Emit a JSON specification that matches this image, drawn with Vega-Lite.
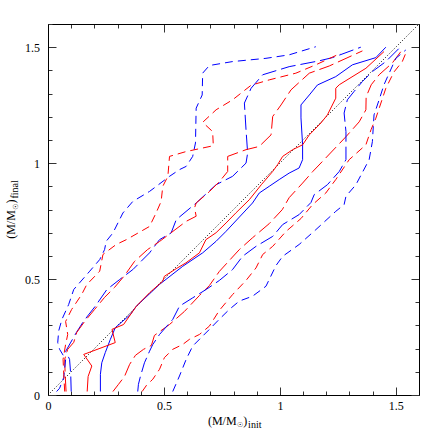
{
"$schema": "https://vega.github.io/schema/vega-lite/v6.json",
"width": 371, "height": 371,
"autosize": {"type": "none"},
"padding": {"left": 48, "top": 24, "right": 24, "bottom": 48},
"config": {"view": {"stroke": null}, "axis": {"grid": false, "labelFont": "Liberation Serif", "titleFont": "Liberation Serif", "labelColor": "black", "titleColor": "black", "titleFontWeight": "normal", "domainColor": "black", "domainWidth": 1, "tickColor": "#333", "tickWidth": 1}},
"datasets": {
"diag": [{"x": 0, "y": 0}, {"x": 1.6, "y": 1.6}],
"curves": [
{"c":"BSU","k":"blue","t":"short","x":0.037,"y":0.015},{"c":"BSU","k":"blue","t":"short","x":0.050,"y":0.029},{"c":"BSU","k":"blue","t":"short","x":0.068,"y":0.076},{"c":"BSU","k":"blue","t":"short","x":0.076,"y":0.154},{"c":"BSU","k":"blue","t":"short","x":0.050,"y":0.197},{"c":"BSU","k":"blue","t":"short","x":0.042,"y":0.226},{"c":"BSU","k":"blue","t":"short","x":0.046,"y":0.276},{"c":"BSU","k":"blue","t":"short","x":0.060,"y":0.326},{"c":"BSU","k":"blue","t":"short","x":0.089,"y":0.390},{"c":"BSU","k":"blue","t":"short","x":0.111,"y":0.455},{"c":"BSU","k":"blue","t":"short","x":0.180,"y":0.534},{"c":"BSU","k":"blue","t":"short","x":0.223,"y":0.584},{"c":"BSU","k":"blue","t":"short","x":0.244,"y":0.627},{"c":"BSU","k":"blue","t":"short","x":0.251,"y":0.663},{"c":"BSU","k":"blue","t":"short","x":0.280,"y":0.699},{"c":"BSU","k":"blue","t":"short","x":0.323,"y":0.785},{"c":"BSU","k":"blue","t":"short","x":0.366,"y":0.835},{"c":"BSU","k":"blue","t":"short","x":0.438,"y":0.878},{"c":"BSU","k":"blue","t":"short","x":0.524,"y":0.943},{"c":"BSU","k":"blue","t":"short","x":0.567,"y":0.972},{"c":"BSU","k":"blue","t":"short","x":0.596,"y":0.986},{"c":"BSU","k":"blue","t":"short","x":0.624,"y":1.029},{"c":"BSU","k":"blue","t":"short","x":0.636,"y":1.087},{"c":"BSU","k":"blue","t":"short","x":0.639,"y":1.237},{"c":"BSU","k":"blue","t":"short","x":0.665,"y":1.294},{"c":"BSU","k":"blue","t":"short","x":0.667,"y":1.388},{"c":"BSU","k":"blue","t":"short","x":0.696,"y":1.421},{"c":"BSU","k":"blue","t":"short","x":0.796,"y":1.438},{"c":"BSU","k":"blue","t":"short","x":0.940,"y":1.452},{"c":"BSU","k":"blue","t":"short","x":1.040,"y":1.467},{"c":"BSU","k":"blue","t":"short","x":1.155,"y":1.502},
{"c":"RSU","k":"red","t":"short","x":0.072,"y":0.015},{"c":"RSU","k":"red","t":"short","x":0.068,"y":0.089},{"c":"RSU","k":"red","t":"short","x":0.065,"y":0.154},{"c":"RSU","k":"red","t":"short","x":0.076,"y":0.218},{"c":"RSU","k":"red","t":"short","x":0.085,"y":0.261},{"c":"RSU","k":"red","t":"short","x":0.076,"y":0.317},{"c":"RSU","k":"red","t":"short","x":0.102,"y":0.369},{"c":"RSU","k":"red","t":"short","x":0.145,"y":0.433},{"c":"RSU","k":"red","t":"short","x":0.167,"y":0.476},{"c":"RSU","k":"red","t":"short","x":0.223,"y":0.534},{"c":"RSU","k":"red","t":"short","x":0.237,"y":0.606},{"c":"RSU","k":"red","t":"short","x":0.294,"y":0.649},{"c":"RSU","k":"red","t":"short","x":0.338,"y":0.670},{"c":"RSU","k":"red","t":"short","x":0.438,"y":0.727},{"c":"RSU","k":"red","t":"short","x":0.466,"y":0.785},{"c":"RSU","k":"red","t":"short","x":0.488,"y":0.835},{"c":"RSU","k":"red","t":"short","x":0.495,"y":0.900},{"c":"RSU","k":"red","t":"short","x":0.517,"y":0.943},{"c":"RSU","k":"red","t":"short","x":0.524,"y":1.029},{"c":"RSU","k":"red","t":"short","x":0.596,"y":1.050},{"c":"RSU","k":"red","t":"short","x":0.713,"y":1.075},{"c":"RSU","k":"red","t":"short","x":0.710,"y":1.136},{"c":"RSU","k":"red","t":"short","x":0.667,"y":1.176},{"c":"RSU","k":"red","t":"short","x":0.725,"y":1.230},{"c":"RSU","k":"red","t":"short","x":0.796,"y":1.273},{"c":"RSU","k":"red","t":"short","x":0.876,"y":1.336},{"c":"RSU","k":"red","t":"short","x":0.954,"y":1.359},{"c":"RSU","k":"red","t":"short","x":1.069,"y":1.388},{"c":"RSU","k":"red","t":"short","x":1.155,"y":1.424},{"c":"RSU","k":"red","t":"short","x":1.263,"y":1.474},
{"c":"BLU","k":"blue","t":"long","x":0.100,"y":0.015},{"c":"BLU","k":"blue","t":"long","x":0.098,"y":0.089},{"c":"BLU","k":"blue","t":"long","x":0.093,"y":0.154},{"c":"BLU","k":"blue","t":"long","x":0.076,"y":0.188},{"c":"BLU","k":"blue","t":"long","x":0.089,"y":0.211},{"c":"BLU","k":"blue","t":"long","x":0.122,"y":0.269},{"c":"BLU","k":"blue","t":"long","x":0.154,"y":0.319},{"c":"BLU","k":"blue","t":"long","x":0.204,"y":0.383},{"c":"BLU","k":"blue","t":"long","x":0.254,"y":0.455},{"c":"BLU","k":"blue","t":"long","x":0.309,"y":0.498},{"c":"BLU","k":"blue","t":"long","x":0.366,"y":0.541},{"c":"BLU","k":"blue","t":"long","x":0.438,"y":0.613},{"c":"BLU","k":"blue","t":"long","x":0.481,"y":0.670},{"c":"BLU","k":"blue","t":"long","x":0.531,"y":0.699},{"c":"BLU","k":"blue","t":"long","x":0.553,"y":0.756},{"c":"BLU","k":"blue","t":"long","x":0.639,"y":0.828},{"c":"BLU","k":"blue","t":"long","x":0.725,"y":0.907},{"c":"BLU","k":"blue","t":"long","x":0.796,"y":0.943},{"c":"BLU","k":"blue","t":"long","x":0.854,"y":1.000},{"c":"BLU","k":"blue","t":"long","x":0.861,"y":1.043},{"c":"BLU","k":"blue","t":"long","x":0.854,"y":1.144},{"c":"BLU","k":"blue","t":"long","x":0.847,"y":1.259},{"c":"BLU","k":"blue","t":"long","x":0.876,"y":1.323},{"c":"BLU","k":"blue","t":"long","x":0.926,"y":1.381},{"c":"BLU","k":"blue","t":"long","x":1.040,"y":1.416},{"c":"BLU","k":"blue","t":"long","x":1.169,"y":1.441},{"c":"BLU","k":"blue","t":"long","x":1.227,"y":1.455},{"c":"BLU","k":"blue","t":"long","x":1.349,"y":1.500},
{"c":"RLU","k":"red","t":"long","x":0.078,"y":0.015},{"c":"RLU","k":"red","t":"long","x":0.074,"y":0.089},{"c":"RLU","k":"red","t":"long","x":0.072,"y":0.154},{"c":"RLU","k":"red","t":"long","x":0.085,"y":0.197},{"c":"RLU","k":"red","t":"long","x":0.111,"y":0.227},{"c":"RLU","k":"red","t":"long","x":0.124,"y":0.270},{"c":"RLU","k":"red","t":"long","x":0.158,"y":0.317},{"c":"RLU","k":"red","t":"long","x":0.201,"y":0.369},{"c":"RLU","k":"red","t":"long","x":0.244,"y":0.421},{"c":"RLU","k":"red","t":"long","x":0.287,"y":0.464},{"c":"RLU","k":"red","t":"long","x":0.330,"y":0.515},{"c":"RLU","k":"red","t":"long","x":0.373,"y":0.576},{"c":"RLU","k":"red","t":"long","x":0.429,"y":0.627},{"c":"RLU","k":"red","t":"long","x":0.481,"y":0.662},{"c":"RLU","k":"red","t":"long","x":0.510,"y":0.684},{"c":"RLU","k":"red","t":"long","x":0.596,"y":0.749},{"c":"RLU","k":"red","t":"long","x":0.639,"y":0.771},{"c":"RLU","k":"red","t":"long","x":0.632,"y":0.807},{"c":"RLU","k":"red","t":"long","x":0.639,"y":0.828},{"c":"RLU","k":"red","t":"long","x":0.696,"y":0.877},{"c":"RLU","k":"red","t":"long","x":0.739,"y":0.920},{"c":"RLU","k":"red","t":"long","x":0.775,"y":0.964},{"c":"RLU","k":"red","t":"long","x":0.775,"y":1.029},{"c":"RLU","k":"red","t":"long","x":0.854,"y":1.058},{"c":"RLU","k":"red","t":"long","x":0.911,"y":1.072},{"c":"RLU","k":"red","t":"long","x":0.962,"y":1.122},{"c":"RLU","k":"red","t":"long","x":0.969,"y":1.201},{"c":"RLU","k":"red","t":"long","x":1.005,"y":1.251},{"c":"RLU","k":"red","t":"long","x":1.048,"y":1.316},{"c":"RLU","k":"red","t":"long","x":1.127,"y":1.388},{"c":"RLU","k":"red","t":"long","x":1.213,"y":1.419},{"c":"RLU","k":"red","t":"long","x":1.356,"y":1.484},
{"c":"BS","k":"blue","t":"solid","x":0.226,"y":0.015},{"c":"BS","k":"blue","t":"solid","x":0.226,"y":0.089},{"c":"BS","k":"blue","t":"solid","x":0.232,"y":0.139},{"c":"BS","k":"blue","t":"solid","x":0.247,"y":0.183},{"c":"BS","k":"blue","t":"solid","x":0.269,"y":0.240},{"c":"BS","k":"blue","t":"solid","x":0.290,"y":0.290},{"c":"BS","k":"blue","t":"solid","x":0.355,"y":0.347},{"c":"BS","k":"blue","t":"solid","x":0.381,"y":0.383},{"c":"BS","k":"blue","t":"solid","x":0.481,"y":0.477},{"c":"BS","k":"blue","t":"solid","x":0.581,"y":0.555},{"c":"BS","k":"blue","t":"solid","x":0.667,"y":0.613},{"c":"BS","k":"blue","t":"solid","x":0.725,"y":0.663},{"c":"BS","k":"blue","t":"solid","x":0.768,"y":0.706},{"c":"BS","k":"blue","t":"solid","x":0.882,"y":0.828},{"c":"BS","k":"blue","t":"solid","x":0.911,"y":0.871},{"c":"BS","k":"blue","t":"solid","x":0.954,"y":0.900},{"c":"BS","k":"blue","t":"solid","x":0.997,"y":0.929},{"c":"BS","k":"blue","t":"solid","x":1.040,"y":0.957},{"c":"BS","k":"blue","t":"solid","x":1.083,"y":0.979},{"c":"BS","k":"blue","t":"solid","x":1.098,"y":1.015},{"c":"BS","k":"blue","t":"solid","x":1.098,"y":1.079},{"c":"BS","k":"blue","t":"solid","x":1.091,"y":1.195},{"c":"BS","k":"blue","t":"solid","x":1.091,"y":1.251},{"c":"BS","k":"blue","t":"solid","x":1.127,"y":1.294},{"c":"BS","k":"blue","t":"solid","x":1.162,"y":1.337},{"c":"BS","k":"blue","t":"solid","x":1.241,"y":1.373},{"c":"BS","k":"blue","t":"solid","x":1.313,"y":1.424},{"c":"BS","k":"blue","t":"solid","x":1.414,"y":1.455},{"c":"BS","k":"blue","t":"solid","x":1.457,"y":1.500},
{"c":"RS","k":"red","t":"solid","x":0.169,"y":0.015},{"c":"RS","k":"red","t":"solid","x":0.173,"y":0.080},{"c":"RS","k":"red","t":"solid","x":0.189,"y":0.125},{"c":"RS","k":"red","t":"solid","x":0.154,"y":0.175},{"c":"RS","k":"red","t":"solid","x":0.290,"y":0.226},{"c":"RS","k":"red","t":"solid","x":0.276,"y":0.283},{"c":"RS","k":"red","t":"solid","x":0.326,"y":0.304},{"c":"RS","k":"red","t":"solid","x":0.381,"y":0.383},{"c":"RS","k":"red","t":"solid","x":0.438,"y":0.441},{"c":"RS","k":"red","t":"solid","x":0.495,"y":0.491},{"c":"RS","k":"red","t":"solid","x":0.502,"y":0.512},{"c":"RS","k":"red","t":"solid","x":0.553,"y":0.545},{"c":"RS","k":"red","t":"solid","x":0.595,"y":0.570},{"c":"RS","k":"red","t":"solid","x":0.653,"y":0.613},{"c":"RS","k":"red","t":"solid","x":0.681,"y":0.670},{"c":"RS","k":"red","t":"solid","x":0.725,"y":0.700},{"c":"RS","k":"red","t":"solid","x":0.768,"y":0.742},{"c":"RS","k":"red","t":"solid","x":0.811,"y":0.786},{"c":"RS","k":"red","t":"solid","x":0.868,"y":0.842},{"c":"RS","k":"red","t":"solid","x":0.920,"y":0.907},{"c":"RS","k":"red","t":"solid","x":0.969,"y":0.964},{"c":"RS","k":"red","t":"solid","x":0.990,"y":0.993},{"c":"RS","k":"red","t":"solid","x":1.012,"y":1.029},{"c":"RS","k":"red","t":"solid","x":1.055,"y":1.058},{"c":"RS","k":"red","t":"solid","x":1.098,"y":1.079},{"c":"RS","k":"red","t":"solid","x":1.127,"y":1.122},{"c":"RS","k":"red","t":"solid","x":1.177,"y":1.173},{"c":"RS","k":"red","t":"solid","x":1.205,"y":1.208},{"c":"RS","k":"red","t":"solid","x":1.241,"y":1.280},{"c":"RS","k":"red","t":"solid","x":1.241,"y":1.323},{"c":"RS","k":"red","t":"solid","x":1.256,"y":1.338},{"c":"RS","k":"red","t":"solid","x":1.371,"y":1.409},{"c":"RS","k":"red","t":"solid","x":1.449,"y":1.481},
{"c":"RLL","k":"red","t":"long","x":0.280,"y":0.015},{"c":"RLL","k":"red","t":"long","x":0.304,"y":0.046},{"c":"RLL","k":"red","t":"long","x":0.330,"y":0.080},{"c":"RLL","k":"red","t":"long","x":0.352,"y":0.132},{"c":"RLL","k":"red","t":"long","x":0.377,"y":0.171},{"c":"RLL","k":"red","t":"long","x":0.412,"y":0.197},{"c":"RLL","k":"red","t":"long","x":0.446,"y":0.214},{"c":"RLL","k":"red","t":"long","x":0.459,"y":0.257},{"c":"RLL","k":"red","t":"long","x":0.524,"y":0.304},{"c":"RLL","k":"red","t":"long","x":0.588,"y":0.360},{"c":"RLL","k":"red","t":"long","x":0.653,"y":0.429},{"c":"RLL","k":"red","t":"long","x":0.696,"y":0.472},{"c":"RLL","k":"red","t":"long","x":0.739,"y":0.533},{"c":"RLL","k":"red","t":"long","x":0.825,"y":0.627},{"c":"RLL","k":"red","t":"long","x":0.882,"y":0.678},{"c":"RLL","k":"red","t":"long","x":0.954,"y":0.739},{"c":"RLL","k":"red","t":"long","x":1.010,"y":0.799},{"c":"RLL","k":"red","t":"long","x":1.040,"y":0.851},{"c":"RLL","k":"red","t":"long","x":1.098,"y":0.914},{"c":"RLL","k":"red","t":"long","x":1.141,"y":0.963},{"c":"RLL","k":"red","t":"long","x":1.191,"y":1.015},{"c":"RLL","k":"red","t":"long","x":1.285,"y":1.114},{"c":"RLL","k":"red","t":"long","x":1.342,"y":1.178},{"c":"RLL","k":"red","t":"long","x":1.371,"y":1.230},{"c":"RLL","k":"red","t":"long","x":1.372,"y":1.286},{"c":"RLL","k":"red","t":"long","x":1.394,"y":1.338},{"c":"RLL","k":"red","t":"long","x":1.428,"y":1.381},{"c":"RLL","k":"red","t":"long","x":1.485,"y":1.432},{"c":"RLL","k":"red","t":"long","x":1.521,"y":1.480},
{"c":"BLL","k":"blue","t":"long","x":0.387,"y":0.015},{"c":"BLL","k":"blue","t":"long","x":0.390,"y":0.046},{"c":"BLL","k":"blue","t":"long","x":0.399,"y":0.082},{"c":"BLL","k":"blue","t":"long","x":0.416,"y":0.139},{"c":"BLL","k":"blue","t":"long","x":0.438,"y":0.189},{"c":"BLL","k":"blue","t":"long","x":0.452,"y":0.218},{"c":"BLL","k":"blue","t":"long","x":0.481,"y":0.261},{"c":"BLL","k":"blue","t":"long","x":0.538,"y":0.326},{"c":"BLL","k":"blue","t":"long","x":0.567,"y":0.383},{"c":"BLL","k":"blue","t":"long","x":0.624,"y":0.419},{"c":"BLL","k":"blue","t":"long","x":0.682,"y":0.455},{"c":"BLL","k":"blue","t":"long","x":0.739,"y":0.494},{"c":"BLL","k":"blue","t":"long","x":0.796,"y":0.541},{"c":"BLL","k":"blue","t":"long","x":0.839,"y":0.598},{"c":"BLL","k":"blue","t":"long","x":0.897,"y":0.641},{"c":"BLL","k":"blue","t":"long","x":0.969,"y":0.684},{"c":"BLL","k":"blue","t":"long","x":1.012,"y":0.735},{"c":"BLL","k":"blue","t":"long","x":1.083,"y":0.778},{"c":"BLL","k":"blue","t":"long","x":1.134,"y":0.830},{"c":"BLL","k":"blue","t":"long","x":1.148,"y":0.864},{"c":"BLL","k":"blue","t":"long","x":1.205,"y":0.907},{"c":"BLL","k":"blue","t":"long","x":1.256,"y":0.964},{"c":"BLL","k":"blue","t":"long","x":1.285,"y":1.015},{"c":"BLL","k":"blue","t":"long","x":1.285,"y":1.136},{"c":"BLL","k":"blue","t":"long","x":1.277,"y":1.216},{"c":"BLL","k":"blue","t":"long","x":1.291,"y":1.273},{"c":"BLL","k":"blue","t":"long","x":1.320,"y":1.309},{"c":"BLL","k":"blue","t":"long","x":1.356,"y":1.352},{"c":"BLL","k":"blue","t":"long","x":1.399,"y":1.395},{"c":"BLL","k":"blue","t":"long","x":1.457,"y":1.438},{"c":"BLL","k":"blue","t":"long","x":1.514,"y":1.495},
{"c":"RSL","k":"red","t":"short","x":0.406,"y":0.015},{"c":"RSL","k":"red","t":"short","x":0.425,"y":0.042},{"c":"RSL","k":"red","t":"short","x":0.452,"y":0.068},{"c":"RSL","k":"red","t":"short","x":0.481,"y":0.111},{"c":"RSL","k":"red","t":"short","x":0.502,"y":0.161},{"c":"RSL","k":"red","t":"short","x":0.538,"y":0.197},{"c":"RSL","k":"red","t":"short","x":0.581,"y":0.218},{"c":"RSL","k":"red","t":"short","x":0.610,"y":0.240},{"c":"RSL","k":"red","t":"short","x":0.653,"y":0.261},{"c":"RSL","k":"red","t":"short","x":0.696,"y":0.297},{"c":"RSL","k":"red","t":"short","x":0.739,"y":0.365},{"c":"RSL","k":"red","t":"short","x":0.796,"y":0.433},{"c":"RSL","k":"red","t":"short","x":0.854,"y":0.494},{"c":"RSL","k":"red","t":"short","x":0.897,"y":0.548},{"c":"RSL","k":"red","t":"short","x":0.926,"y":0.606},{"c":"RSL","k":"red","t":"short","x":0.969,"y":0.641},{"c":"RSL","k":"red","t":"short","x":1.026,"y":0.705},{"c":"RSL","k":"red","t":"short","x":1.091,"y":0.761},{"c":"RSL","k":"red","t":"short","x":1.141,"y":0.821},{"c":"RSL","k":"red","t":"short","x":1.198,"y":0.871},{"c":"RSL","k":"red","t":"short","x":1.241,"y":0.929},{"c":"RSL","k":"red","t":"short","x":1.299,"y":1.015},{"c":"RSL","k":"red","t":"short","x":1.371,"y":1.079},{"c":"RSL","k":"red","t":"short","x":1.393,"y":1.144},{"c":"RSL","k":"red","t":"short","x":1.414,"y":1.194},{"c":"RSL","k":"red","t":"short","x":1.457,"y":1.323},{"c":"RSL","k":"red","t":"short","x":1.492,"y":1.393},{"c":"RSL","k":"red","t":"short","x":1.528,"y":1.438},{"c":"RSL","k":"red","t":"short","x":1.543,"y":1.474},
{"c":"BSL","k":"blue","t":"short","x":0.538,"y":0.015},{"c":"BSL","k":"blue","t":"short","x":0.567,"y":0.082},{"c":"BSL","k":"blue","t":"short","x":0.596,"y":0.154},{"c":"BSL","k":"blue","t":"short","x":0.624,"y":0.211},{"c":"BSL","k":"blue","t":"short","x":0.696,"y":0.283},{"c":"BSL","k":"blue","t":"short","x":0.739,"y":0.327},{"c":"BSL","k":"blue","t":"short","x":0.782,"y":0.369},{"c":"BSL","k":"blue","t":"short","x":0.825,"y":0.405},{"c":"BSL","k":"blue","t":"short","x":0.882,"y":0.426},{"c":"BSL","k":"blue","t":"short","x":0.940,"y":0.469},{"c":"BSL","k":"blue","t":"short","x":0.983,"y":0.558},{"c":"BSL","k":"blue","t":"short","x":1.012,"y":0.598},{"c":"BSL","k":"blue","t":"short","x":1.083,"y":0.649},{"c":"BSL","k":"blue","t":"short","x":1.155,"y":0.713},{"c":"BSL","k":"blue","t":"short","x":1.241,"y":0.792},{"c":"BSL","k":"blue","t":"short","x":1.277,"y":0.821},{"c":"BSL","k":"blue","t":"short","x":1.285,"y":0.857},{"c":"BSL","k":"blue","t":"short","x":1.328,"y":0.907},{"c":"BSL","k":"blue","t":"short","x":1.385,"y":1.015},{"c":"BSL","k":"blue","t":"short","x":1.399,"y":1.093},{"c":"BSL","k":"blue","t":"short","x":1.406,"y":1.208},{"c":"BSL","k":"blue","t":"short","x":1.428,"y":1.273},{"c":"BSL","k":"blue","t":"short","x":1.449,"y":1.338},{"c":"BSL","k":"blue","t":"short","x":1.500,"y":1.452},{"c":"BSL","k":"blue","t":"short","x":1.543,"y":1.488}
]},
"resolve": {"axis": {"x": "independent", "y": "independent"}},
"layer": [
{"data": {"name": "diag"},
 "mark": {"type": "line", "color": "black", "strokeDash": [1, 2], "strokeWidth": 1},
 "encoding": {
  "x": {"field": "x", "type": "quantitative", "scale": {"domain": [0, 1.6], "nice": false, "zero": false},
   "axis": {"orient": "bottom", "values": [0,0.1,0.2,0.3,0.4,0.5,0.6,0.7,0.8,0.9,1,1.1,1.2,1.3,1.4,1.5,1.6],
    "labelExpr": "datum.value % 0.5 == 0 ? '' + datum.value : ''",
    "tickSize": {"condition": {"test": "datum.value % 0.5 == 0", "value": -8}, "value": -4},
    "labelPadding": 13, "labelFontSize": 12, "labelFlush": false, "labelOverlap": false, "labelBaseline": "top",
    "title": "(M/M", "titleFontSize": 12, "titleX": 159.4, "titleY": 29, "titleAlign": "left", "titleBaseline": "alphabetic"}},
  "y": {"field": "y", "type": "quantitative", "scale": {"domain": [0, 1.6], "nice": false, "zero": false},
   "axis": {"orient": "left", "values": [0,0.1,0.2,0.3,0.4,0.5,0.6,0.7,0.8,0.9,1,1.1,1.2,1.3,1.4,1.5,1.6],
    "labelExpr": "datum.value % 0.5 == 0 ? '' + datum.value : ''",
    "tickSize": {"condition": {"test": "datum.value % 0.5 == 0", "value": -8}, "value": -4},
    "labelPadding": 16.5, "labelFontSize": 12, "labelFlush": false, "labelOverlap": false,
    "title": "(M/M", "titleFontSize": 12, "titleAngle": 270, "titleX": -33.5, "titleY": 214.3, "titleAlign": "left", "titleBaseline": "alphabetic"}}
 }},
{"data": {"name": "curves"},
 "transform": [{"filter": "datum.t == 'solid'"}],
 "mark": {"type": "line", "strokeWidth": 1},
 "encoding": {
  "x": {"field": "x", "type": "quantitative", "scale": {"domain": [0, 1.6], "nice": false, "zero": false},
   "axis": {"orient": "top", "values": [0,0.1,0.2,0.3,0.4,0.5,0.6,0.7,0.8,0.9,1,1.1,1.2,1.3,1.4,1.5,1.6], "labels": false,
    "tickSize": {"condition": {"test": "datum.value % 0.5 == 0", "value": -8}, "value": -4},
    "title": ")", "titleFontSize": 12, "titleX": 194.8, "titleY": 400, "titleAlign": "left", "titleBaseline": "alphabetic"}},
  "y": {"field": "y", "type": "quantitative", "scale": {"domain": [0, 1.6], "nice": false, "zero": false},
   "axis": {"orient": "right", "values": [0,0.1,0.2,0.3,0.4,0.5,0.6,0.7,0.8,0.9,1,1.1,1.2,1.3,1.4,1.5,1.6], "labels": false,
    "tickSize": {"condition": {"test": "datum.value % 0.5 == 0", "value": -8}, "value": -4},
    "title": ")", "titleFontSize": 12, "titleAngle": 270, "titleX": -404.5, "titleY": 178.9, "titleAlign": "left", "titleBaseline": "alphabetic"}},
  "color": {"field": "k", "type": "nominal", "scale": {"domain": ["blue", "red"], "range": ["#0000ff", "#ff0000"]}, "legend": null},
  "detail": {"field": "c"},
  "order": {"value": null}
 }},
{"data": {"name": "curves"},
 "transform": [{"filter": "datum.t == 'long'"}],
 "mark": {"type": "line", "strokeWidth": 1, "strokeDash": [15, 5]},
 "encoding": {
  "x": {"field": "x", "type": "quantitative", "scale": {"domain": [0, 1.6], "nice": false, "zero": false},
   "axis": {"orient": "bottom", "domain": false, "ticks": false, "labels": false,
    "title": "init", "titleFontSize": 10, "titleX": 199.6, "titleY": 32, "titleAlign": "left", "titleBaseline": "alphabetic"}},
  "y": {"field": "y", "type": "quantitative", "scale": {"domain": [0, 1.6], "nice": false, "zero": false},
   "axis": {"orient": "left", "domain": false, "ticks": false, "labels": false,
    "title": "final", "titleFontSize": 10, "titleAngle": 270, "titleX": -30.5, "titleY": 174.1, "titleAlign": "left", "titleBaseline": "alphabetic"}},
  "color": {"field": "k", "type": "nominal", "scale": {"domain": ["blue", "red"], "range": ["#0000ff", "#ff0000"]}, "legend": null},
  "detail": {"field": "c"},
  "order": {"value": null}
 }},
{"data": {"name": "curves"},
 "transform": [{"filter": "datum.t == 'short'"}],
 "mark": {"type": "line", "strokeWidth": 1, "strokeDash": [8, 5]},
 "encoding": {
  "x": {"field": "x", "type": "quantitative", "scale": {"domain": [0, 1.6], "nice": false, "zero": false},
   "axis": {"orient": "bottom", "domain": false, "ticks": false, "labels": false,
    "title": "\u2609", "titleFont": "DejaVu Sans", "titleFontSize": 7, "titleX": 188.5, "titleY": 31.5, "titleAlign": "left", "titleBaseline": "alphabetic"}},
  "y": {"field": "y", "type": "quantitative", "scale": {"domain": [0, 1.6], "nice": false, "zero": false},
   "axis": {"orient": "left", "domain": false, "ticks": false, "labels": false,
    "title": "\u2609", "titleFont": "DejaVu Sans", "titleFontSize": 7, "titleAngle": 270, "titleX": -30.5, "titleY": 185.2, "titleAlign": "left", "titleBaseline": "alphabetic"}},
  "color": {"field": "k", "type": "nominal", "scale": {"domain": ["blue", "red"], "range": ["#0000ff", "#ff0000"]}, "legend": null},
  "detail": {"field": "c"},
  "order": {"value": null}
 }}
]
}
